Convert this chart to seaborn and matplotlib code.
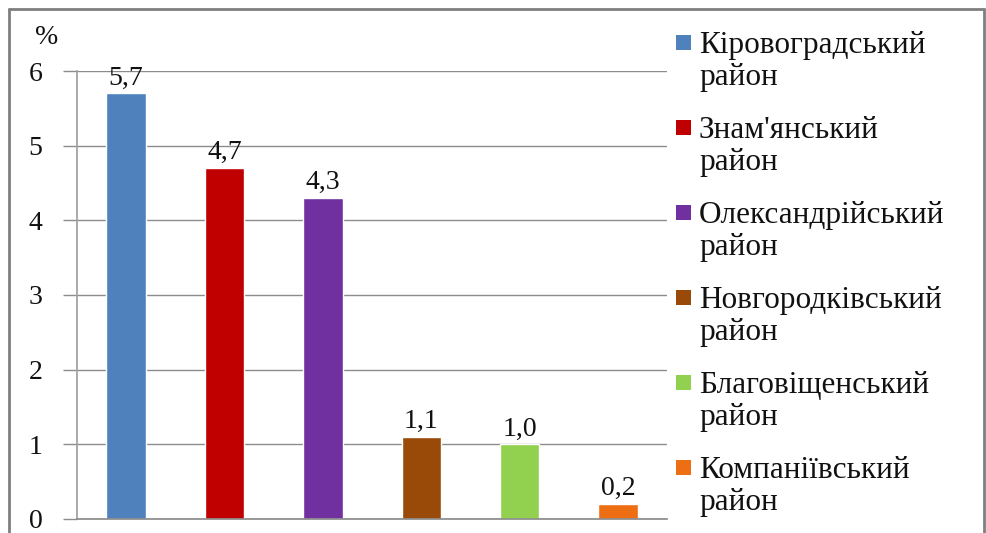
import matplotlib
matplotlib.use("Agg")
import matplotlib.pyplot as plt
import seaborn as sns
import pandas as pd
from matplotlib.patches import Rectangle
from matplotlib.lines import Line2D

categories = ["Кіровоградський район", "Знам'янський район", "Олександрійський район",
              "Новгородківський район", "Благовіщенський район", "Компаніївський район"]
values = [5.7, 4.7, 4.3, 1.1, 1.0, 0.2]
colors = ["#4F81BD", "#C00000", "#7030A0", "#9A4A08", "#92D050", "#EE6E14"]
yticks = [0, 1, 2, 3, 4, 5, 6]

sns.set_theme(style="white")
plt.rcParams['font.family'] = ['Liberation Serif', 'DejaVu Serif']

W, H = 986, 533
df = pd.DataFrame({"cat": categories, "val": values})

fig = plt.figure(figsize=(W / 100, H / 100), dpi=100)
ax = fig.add_axes([77 / W, 14 / H, 590 / W, 448 / H])

sns.barplot(data=df, x="cat", y="val", hue="cat", palette=colors, width=0.4,
            legend=False, ax=ax, saturation=1, dodge=False)

ax.set_ylim(0, 6)
ax.set_xlim(-0.5, len(categories) - 0.5)
ax.set_yticks(yticks)
ax.set_yticklabels([str(t) for t in yticks], fontsize=20, color="#111111")
ax.set_xticks([])
ax.set_xlabel("")
ax.set_ylabel("")
ax.yaxis.grid(True, color="#8c8c8c", linewidth=1.0)
ax.set_axisbelow(True)
for s in ["top", "right"]:
    ax.spines[s].set_visible(False)
ax.spines["left"].set_color("#a0a0a0")
ax.spines["bottom"].set_color("#8c8c8c")
ax.tick_params(axis="y", which="major", length=10, color="#8c8c8c", width=1.0,
               direction="out", pad=15, left=True)

for cont in ax.containers:
    ax.bar_label(cont, labels=[f"{v:.1f}".replace(".", ",") for v in cont.datavalues],
                 fontsize=20, padding=2, color="#111111")

fig.text(47 / W, 1 - 37 / H, "%", fontsize=20, ha="center", va="center", color="#111111")

# legend (manual, Excel-like layout)
for i, (cat, col) in enumerate(zip(categories, colors)):
    name, rest = cat.split(" ", 1)
    b1 = 53 + 85 * i
    b2 = b1 + 32
    fig.add_artist(Rectangle((676 / W, 1 - (b1 - 3) / H), 15 / W, 15 / H,
                             transform=fig.transFigure, facecolor=col, edgecolor="none"))
    fig.text(699 / W, 1 - b1 / H, name, fontsize=22.5, ha="left", va="baseline", color="#111111")
    fig.text(699 / W, 1 - b2 / H, rest, fontsize=22.5, ha="left", va="baseline", color="#111111")

# figure border
kw = dict(color="#7f7f7f", linewidth=2, transform=fig.transFigure, clip_on=False)
fig.add_artist(Line2D([9 / W, 9 / W], [0, 1 - 9 / H], **kw))
fig.add_artist(Line2D([9 / W, 984 / W], [1 - 9 / H, 1 - 9 / H], **kw))
fig.add_artist(Line2D([984 / W, 984 / W], [0, 1 - 9 / H], **kw))

fig.savefig("out.png", dpi=100)
